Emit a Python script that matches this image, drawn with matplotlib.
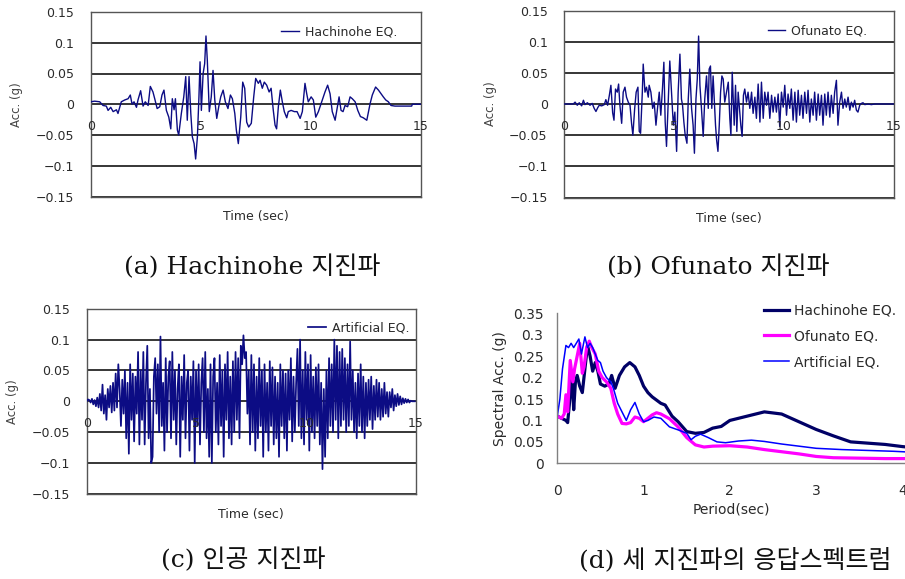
import matplotlib
matplotlib.use("Agg")
import matplotlib.pyplot as plt
import numpy as np

# ---------------- data ----------------
hach_t = [0.00, 0.18, 0.41, 0.56, 0.71, 0.79, 0.91, 1.02, 1.17, 1.24, 1.39, 1.55, 1.70, 1.80, 1.88,
          1.97, 2.08, 2.15, 2.27, 2.38, 2.48, 2.61, 2.71, 2.83, 2.91, 3.02, 3.14, 3.24, 3.33, 3.44,
          3.55, 3.64, 3.71, 3.79, 3.85, 3.94, 4.00, 4.12, 4.23, 4.32, 4.39, 4.47, 4.55, 4.62, 4.70,
          4.77, 4.85, 4.92, 4.97, 5.03, 5.11, 5.18, 5.24, 5.30, 5.39, 5.48, 5.56, 5.64, 5.73, 5.82,
          5.91, 6.02, 6.12, 6.24, 6.35, 6.44, 6.55, 6.62, 6.71, 6.82, 6.91, 7.00, 7.09, 7.18, 7.30,
          7.41, 7.50, 7.62, 7.70, 7.80, 7.89, 8.00, 8.11, 8.20, 8.30, 8.38, 8.45, 8.53, 8.62, 8.71,
          8.80, 8.91, 8.98, 9.11, 9.26, 9.38, 9.52, 9.62, 9.74, 9.82, 9.89, 10.02, 10.12, 10.23, 10.35,
          10.50, 10.65, 10.77, 10.88, 10.98, 11.11, 11.20, 11.29, 11.38, 11.47, 11.56, 11.68, 11.79, 11.89, 12.02,
          12.14, 12.26, 12.39, 12.55, 12.70, 12.80, 12.95, 13.08, 13.20, 13.30, 13.41, 13.53, 13.65, 13.83, 14.14,
          14.59, 14.62, 15.00]
hach_acc = [0.004, 0.005, 0.004, -0.002, -0.003, -0.010, -0.005, -0.012, -0.009, -0.015, 0.004, 0.007, 0.009, 0.015, 0.000,
            0.004, -0.005, 0.007, 0.022, -0.003, 0.004, -0.002, 0.029, 0.020, 0.009, -0.007, -0.004, 0.015, 0.023, -0.010,
            -0.021, -0.040, 0.009, -0.009, 0.009, -0.042, -0.050, -0.015, 0.012, 0.045, -0.026, 0.045, -0.015, -0.053, -0.064,
            -0.089, -0.053, 0.012, 0.069, -0.010, 0.050, 0.066, 0.111, 0.072, -0.012, 0.012, 0.055, 0.007, -0.023, -0.004,
            0.012, 0.023, 0.004, -0.007, 0.015, 0.009, -0.015, -0.042, -0.064, -0.021, 0.036, 0.026, -0.029, -0.037, -0.031,
            0.012, 0.042, 0.034, 0.039, 0.026, 0.036, 0.031, 0.020, 0.026, -0.010, -0.034, -0.040, -0.004, 0.023, 0.004,
            -0.012, -0.022, -0.012, -0.010, -0.012, -0.012, -0.023, -0.012, 0.034, 0.017, 0.004, 0.012, 0.007, -0.021, -0.012,
            0.004, 0.020, 0.031, 0.017, -0.012, -0.026, -0.007, 0.012, -0.010, -0.012, -0.002, -0.004, 0.012, 0.009, 0.004,
            -0.010, -0.020, -0.022, -0.026, 0.001, 0.015, 0.028, 0.023, 0.017, 0.012, 0.007, 0.004, -0.002, -0.003, -0.003,
            -0.003, 0.000, 0.000]

ofu_t = [0.00, 0.41, 0.49, 0.59, 0.68, 0.79, 0.87, 0.94, 1.05, 1.17, 1.27, 1.36, 1.44, 1.52, 1.59, 1.70, 1.82, 1.89,
         1.97, 2.05, 2.12, 2.20, 2.26, 2.33, 2.41, 2.47, 2.53, 2.61, 2.68, 2.76, 2.83, 2.91, 2.99, 3.06, 3.12, 3.20,
         3.27, 3.35, 3.41, 3.47, 3.55, 3.59, 3.67, 3.74, 3.82, 3.86, 3.94, 4.02, 4.09, 4.17, 4.24, 4.32, 4.39, 4.47,
         4.53, 4.59, 4.65, 4.73, 4.80, 4.88, 4.96, 5.03, 5.11, 5.18, 5.26, 5.33, 5.38, 5.44, 5.50, 5.58, 5.64, 5.71,
         5.79, 5.86, 5.92, 5.99, 6.05, 6.11, 6.17, 6.24, 6.32, 6.39, 6.47, 6.55, 6.59, 6.65, 6.71, 6.77, 6.82, 6.88,
         6.93, 6.99, 7.05, 7.11, 7.17, 7.23, 7.30, 7.38, 7.46, 7.53, 7.58, 7.64, 7.73, 7.79, 7.85, 7.91, 7.97, 8.03,
         8.09, 8.15, 8.21, 8.29, 8.36, 8.44, 8.52, 8.59, 8.67, 8.74, 8.82, 8.90, 8.97, 9.05, 9.12, 9.20, 9.27, 9.35,
         9.43, 9.50, 9.58, 9.65, 9.73, 9.80, 9.88, 9.96, 10.03, 10.11, 10.18, 10.26, 10.33, 10.41, 10.49, 10.56, 10.64,
         10.71, 10.79, 10.86, 10.94, 11.02, 11.09, 11.17, 11.24, 11.32, 11.39, 11.47, 11.55, 11.62, 11.70, 11.77, 11.85,
         11.92, 12.00, 12.08, 12.15, 12.23, 12.30, 12.38, 12.45, 12.53, 12.61, 12.68, 12.76, 12.83, 12.91, 12.99, 13.06,
         13.14, 13.21, 13.29, 13.36, 13.44, 13.52, 13.59, 13.67, 13.82, 13.97, 14.12, 15.00]
ofu_acc = [0.000, 0.000, 0.003, -0.002, 0.002, -0.003, 0.006, -0.001, 0.002, -0.002, 0.001, -0.007, -0.012, -0.006, -0.002,
           -0.003, -0.001, 0.007, -0.002, 0.014, 0.030, -0.014, -0.026, 0.024, 0.019, 0.032, -0.002, -0.031, 0.019, 0.027,
           0.011, 0.003, -0.002, -0.031, -0.050, -0.008, 0.019, 0.027, -0.044, -0.047, 0.019, 0.064, 0.019, 0.027, 0.011,
           0.030, 0.019, -0.007, 0.003, -0.034, -0.007, 0.019, -0.018, 0.027, 0.067, -0.029, -0.068, 0.003, 0.069, 0.019,
           -0.034, -0.013, -0.076, 0.019, 0.080, 0.008, -0.002, -0.029, -0.050, -0.063, 0.008, 0.056, -0.007, -0.034, -0.079,
           0.008, 0.040, 0.109, 0.030, -0.007, -0.052, 0.008, 0.045, -0.007, 0.056, 0.061, -0.007, 0.045, 0.008, -0.034,
           -0.058, -0.076, -0.034, 0.019, 0.045, 0.040, 0.003, 0.019, 0.035, -0.023, -0.050, 0.051, -0.034, 0.030, -0.044,
           0.019, -0.007, -0.034, -0.052, 0.014, 0.024, 0.003, 0.019, -0.007, 0.019, -0.015, 0.011, -0.023, 0.032, -0.029,
           0.035, -0.023, 0.019, -0.002, 0.019, -0.023, 0.014, -0.013, 0.011, -0.013, 0.016, -0.036, 0.019, -0.005, 0.030,
           -0.018, 0.016, -0.007, 0.024, -0.026, 0.019, -0.029, 0.022, -0.018, 0.014, -0.023, 0.019, -0.015, 0.022, -0.029,
           0.008, -0.018, 0.019, -0.026, 0.016, -0.018, 0.014, -0.034, 0.016, -0.018, 0.019, -0.021, 0.014, -0.015, 0.019,
           0.038, -0.034, 0.003, 0.019, -0.007, 0.008, -0.005, 0.011, -0.010, 0.003, -0.005, 0.006, -0.010, -0.013, -0.002,
           0.001, 0.002, -0.001, 0.000, -0.001, 0.000, 0.000]

art_dt = 0.06
art_acc = [0.000, 0.003, 0.002, -0.002, 0.004, -0.005, 0.002, -0.008, 0.006, -0.010,
           0.012, -0.015, 0.027, -0.020, 0.010, -0.030, 0.020, -0.010, 0.025, -0.018,
           0.030, -0.015, 0.045, -0.010, 0.060, 0.020, -0.040, 0.035, -0.020, 0.050,
           -0.060, 0.030, -0.085, 0.060, -0.030, 0.045, -0.065, 0.040, -0.020, 0.080,
           -0.070, 0.050, -0.030, 0.080, -0.070, 0.030, 0.090, -0.060, 0.020, -0.100,
           -0.090, 0.040, 0.070, -0.020, 0.060, -0.050, 0.105, -0.040, 0.030, -0.080,
           0.070, -0.050, 0.040, 0.065, -0.060, 0.080, -0.030, 0.050, -0.070, 0.020,
           0.060, -0.090, 0.040, -0.030, 0.075, -0.060, 0.030, 0.050, -0.080, 0.040,
           -0.030, 0.065, -0.100, 0.050, -0.040, 0.060, -0.070, 0.030, 0.070, -0.050,
           0.080, -0.060, 0.020, -0.090, 0.060, -0.100, 0.040, 0.070, -0.050, 0.030,
           -0.070, 0.075, -0.040, 0.050, -0.090, 0.060, -0.030, 0.080, -0.060, 0.040,
           -0.070, 0.065, -0.050, 0.080, -0.030, 0.070, -0.060, 0.090, 0.060, 0.107,
           0.070, 0.080, -0.020, 0.050, -0.070, 0.075, -0.050, 0.060, -0.080, 0.040,
           -0.060, 0.070, -0.040, 0.050, -0.090, 0.060, -0.050, 0.030, -0.080, 0.065,
           -0.040, 0.055, -0.070, 0.040, -0.060, 0.030, -0.090, 0.060, -0.040, 0.050,
           -0.060, 0.045, -0.080, 0.050, -0.030, 0.070, -0.065, 0.040, -0.050, 0.030,
           0.085, -0.040, 0.100, -0.060, 0.050, -0.070, 0.080, -0.030, 0.060, -0.080,
           0.075, -0.050, 0.040, -0.060, 0.055, -0.040, 0.060, -0.070, 0.030, -0.110,
           0.020, -0.090, 0.050, -0.060, 0.070, -0.040, 0.060, -0.050, 0.100, -0.030,
           0.090, -0.060, 0.080, -0.040, 0.085, -0.030, 0.070, -0.050, 0.060, -0.040,
           0.097, -0.030, 0.050, -0.050, 0.030, -0.060, 0.045, -0.040, 0.060, -0.050,
           0.040, -0.060, 0.030, -0.040, 0.035, -0.030, 0.040, -0.045, 0.025, -0.030,
           0.035, -0.025, 0.030, -0.030, 0.020, -0.025, 0.030, -0.020, 0.015, -0.025,
           0.015, -0.010, 0.020, -0.015, 0.010, -0.008, 0.012, -0.006, 0.008, -0.005,
           0.005, -0.003, 0.004, -0.002, 0.003, -0.002, 0.001, 0.000, 0.000, 0.000]

sa_hach_T = [0, 0.05, 0.1, 0.12, 0.15, 0.17, 0.19, 0.21, 0.23, 0.26, 0.29, 0.32, 0.35, 0.38, 0.41, 0.44, 0.47,
             0.5, 0.55, 0.6, 0.63, 0.67, 0.72, 0.78, 0.84, 0.9, 0.95, 1.0, 1.05, 1.1, 1.2, 1.25, 1.33, 1.4, 1.5,
             1.6, 1.7, 1.8, 1.9, 2.0, 2.2, 2.4, 2.6, 2.8, 3.0, 3.2, 3.4, 3.6, 3.8, 4.0, 4.1]
sa_hach = [0.11, 0.105, 0.1, 0.095, 0.16, 0.21, 0.125, 0.19, 0.205, 0.18, 0.165, 0.22, 0.275, 0.25, 0.215, 0.235, 0.215,
           0.185, 0.18, 0.185, 0.205, 0.175, 0.205, 0.225, 0.235, 0.225, 0.205, 0.18, 0.165, 0.155, 0.14, 0.136, 0.11, 0.097, 0.074,
           0.07, 0.072, 0.082, 0.086, 0.1, 0.11, 0.12, 0.115, 0.097, 0.079, 0.064, 0.05, 0.047, 0.044, 0.039, 0.037]

sa_ofu_T = [0, 0.05, 0.08, 0.1, 0.12, 0.15, 0.18, 0.2, 0.23, 0.26, 0.29, 0.31, 0.34, 0.37, 0.4, 0.44, 0.48, 0.52,
            0.57, 0.62, 0.66, 0.7, 0.75, 0.8, 0.85, 0.9, 0.95, 1.0, 1.05, 1.1, 1.15, 1.2, 1.3, 1.4, 1.5, 1.6, 1.7,
            1.8, 2.0, 2.2, 2.4, 2.6, 2.8, 3.0, 3.2, 3.5, 3.8, 4.1]
sa_ofu = [0.11, 0.105, 0.115, 0.16, 0.12, 0.24, 0.19, 0.22, 0.25, 0.28, 0.21, 0.225, 0.27, 0.285, 0.27, 0.255, 0.215, 0.2,
          0.19, 0.175, 0.14, 0.115, 0.093, 0.092, 0.095, 0.108, 0.105, 0.097, 0.105, 0.113, 0.118, 0.115, 0.104, 0.085, 0.06, 0.043, 0.038,
          0.04, 0.041, 0.038, 0.032, 0.027, 0.022, 0.016, 0.013, 0.012, 0.011, 0.011]

sa_art_T = [0, 0.03, 0.06, 0.1, 0.13, 0.16, 0.19, 0.22, 0.25, 0.28, 0.32, 0.35, 0.38, 0.41, 0.44, 0.47, 0.5, 0.53,
            0.57, 0.62, 0.65, 0.7, 0.75, 0.8, 0.85, 0.9, 0.95, 1.0, 1.05, 1.12, 1.2, 1.3, 1.4, 1.5, 1.55, 1.6, 1.66,
            1.75, 1.85, 1.95, 2.1, 2.25, 2.4, 2.6, 2.8, 3.0, 3.3, 3.6, 3.9, 4.1]
sa_art = [0.11, 0.15, 0.22, 0.275, 0.27, 0.28, 0.27, 0.28, 0.29, 0.255, 0.295, 0.27, 0.28, 0.27, 0.255, 0.24, 0.235, 0.215,
          0.2, 0.19, 0.175, 0.14, 0.12, 0.1, 0.125, 0.142, 0.115, 0.097, 0.1, 0.108, 0.105, 0.085, 0.078, 0.07, 0.055, 0.063, 0.068,
          0.06, 0.05, 0.048, 0.052, 0.054, 0.051, 0.045, 0.04, 0.035, 0.032, 0.03, 0.028, 0.026]

th_yticks = [-0.15, -0.1, -0.05, 0, 0.05, 0.1, 0.15]
th_ytick_labels = ["\u22120.15", "\u22120.1", "\u22120.05", "0", "0.05", "0.1", "0.15"]
th_xticks = [0, 5, 10, 15]
th_xtick_labels = ["0", "5", "10", "15"]
sa_yticks = [0, 0.05, 0.1, 0.15, 0.2, 0.25, 0.3, 0.35]
sa_ytick_labels = ["0", "0.05", "0.1", "0.15", "0.2", "0.25", "0.3", "0.35"]
sa_xticks = [0, 1, 2, 3, 4]
sa_xtick_labels = ["0", "1", "2", "3", "4"]
captions = ["(a) Hachinohe 지진파", "(b) Ofunato 지진파", "(c) 인공 지진파", "(d) 세 지진파의 응답스펙트럼"]

# ---------------- figure ----------------
W, H = 905, 579
fig = plt.figure(figsize=(W / 100, H / 100), dpi=100)
fig.patch.set_facecolor("white")


def ax_px(l, t, r, b):
    return fig.add_axes([l / W, 1 - b / H, (r - l) / W, (b - t) / H])


TRACE = "#0c0c84"
TXT = "#2a2a2a"


def th_panel(ax, t, v, label, anchor, lw=1.0):
    ax.plot(t, v, color=TRACE, lw=lw, label=label, zorder=3)
    ax.set_xlim(0, 15)
    ax.set_ylim(-0.15, 0.15)
    ax.set_yticks(th_yticks)
    ax.set_yticklabels(th_ytick_labels, fontsize=9, color=TXT)
    ax.set_xticks([])
    ax.tick_params(axis="y", length=0, pad=12)
    ax.grid(axis="y", color="black", lw=1.1)
    ax.set_axisbelow(True)
    for s in ax.spines.values():
        s.set_color("#555555")
        s.set_linewidth(1.0)
    for xt, xl in zip(th_xticks, th_xtick_labels):
        ax.text(xt, -0.036, xl, ha="center", va="center", fontsize=9, color=TXT)
    ax.text(-0.225, 0.5, "Acc. (g)", rotation=90, transform=ax.transAxes,
            ha="center", va="center", fontsize=8.5, color="#444444")
    ax.text(0.5, -0.11, "Time (sec)", transform=ax.transAxes,
            ha="center", va="center", fontsize=9, color=TXT)
    leg = ax.legend(loc="center right", bbox_to_anchor=anchor, frameon=False, fontsize=9,
                    handlelength=1.4, handletextpad=0.5, borderaxespad=0, borderpad=0)
    for tx in leg.get_texts():
        tx.set_color(TXT)


ax_a = ax_px(90.7, 12, 420.7, 196.5)
th_panel(ax_a, hach_t, hach_acc, "Hachinohe EQ.", (0.93, 0.89))

ax_b = ax_px(564.3, 10.5, 894, 197.5)
th_panel(ax_b, ofu_t, ofu_acc, "Ofunato EQ.", (0.92, 0.89))

art_t = np.arange(len(art_acc)) * art_dt
ax_c = ax_px(86.7, 308.8, 416, 493.8)
th_panel(ax_c, art_t, art_acc, "Artificial EQ.", (0.98, 0.895), lw=1.25)

# spectra
ax_d = ax_px(557.3, 313.3, 905, 463.3)
ax_d.plot(sa_hach_T, sa_hach, color="#000066", lw=2.3, label="Hachinohe EQ.")
ax_d.plot(sa_ofu_T, sa_ofu, color="#ff00ff", lw=2.3, label="Ofunato EQ.")
ax_d.plot(sa_art_T, sa_art, color="#0000ff", lw=1.1, label="Artificial EQ.")
ax_d.set_xlim(0, 4.03)
ax_d.set_ylim(0, 0.35)
ax_d.set_yticks(sa_yticks)
ax_d.set_yticklabels(sa_ytick_labels, fontsize=10, color=TXT)
ax_d.set_xticks(sa_xticks)
ax_d.set_xticklabels(sa_xtick_labels, fontsize=10, color=TXT)
ax_d.tick_params(axis="y", length=0, pad=10)
ax_d.tick_params(axis="x", length=0, pad=15)
for k in ("top", "right"):
    ax_d.spines[k].set_visible(False)
for k in ("left", "bottom"):
    ax_d.spines[k].set_color("#808080")
    ax_d.spines[k].set_linewidth(1.0)
ax_d.set_xlabel("Period(sec)", fontsize=10, color=TXT, labelpad=3)
ax_d.set_ylabel("Spectral Acc. (g)", fontsize=10, color=TXT, labelpad=4)
leg = ax_d.legend(loc="upper right", bbox_to_anchor=(0.975, 1.065), frameon=False, fontsize=10,
                  handlelength=1.8, handletextpad=0.4, labelspacing=0.85, borderaxespad=0, borderpad=0)
for tx in leg.get_texts():
    tx.set_color(TXT)

# captions
cap_font = ["DejaVu Serif", "Noto Sans CJK KR"]
cap_pos = [(252, 267), (718, 267), (243, 560), (735, 560)]
for (cx, cy), txt in zip(cap_pos, captions):
    fig.text(cx / W, 1 - cy / H, txt, ha="center", va="center", fontsize=18,
             family=cap_font, color="#111111", fontweight="light")

fig.savefig("out.png", dpi=100, facecolor="white")
